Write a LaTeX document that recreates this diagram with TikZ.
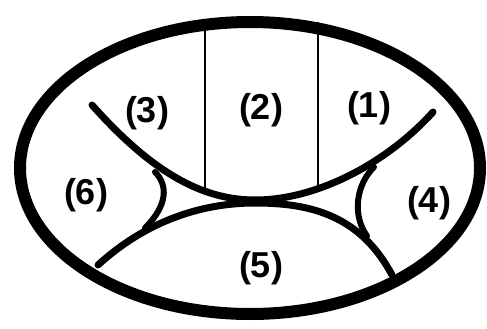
\documentclass[tikz,border=0pt]{standalone}
\usepackage{fontspec}
\setmainfont{Liberation Sans}
\begin{document}
\begin{tikzpicture}[x=1pt,y=-1pt,
  rim/.style={line width=12pt},
  arc/.style={line width=7pt,line cap=round},
  wall/.style={line width=2.8pt},
  lab/.style={font=\fontsize{36}{36}\selectfont\bfseries,inner sep=0pt}]
\useasboundingbox (0,0) rectangle (487,329);
% dividing walls of region (2)
\coordinate (wla) at (205,22);
\coordinate (wlb) at (205,190);
\coordinate (wra) at (318,22);
\coordinate (wrb) at (318,189);
\draw[wall] (wla) -- (wlb);
\draw[wall] (wra) -- (wrb);
% outer rim
\draw[rim] (250,168) ellipse [x radius=230, y radius=146];
% upper curve
\coordinate (ua) at (92,105);
\coordinate (um) at (255,200);
\coordinate (ub) at (433,112);
\draw[arc] (ua) .. controls (150,170) and (200,200) .. (um)
  .. controls (320,200) and (390,160) .. (ub);
% lower curve
\coordinate (la) at (98,265);
\coordinate (lm) at (255,203);
\coordinate (lb) at (392,275);
\draw[arc] (la) .. controls (145,222) and (200,203) .. (lm)
  .. controls (310,203) and (360,215) .. (lb);
% left cusp
\coordinate (lca) at (155,172);
\coordinate (lcb) at (145,228);
\draw[arc,line width=6pt] (lca) .. controls (168,185) and (168,205) .. (lcb);
% right cusp
\coordinate (rca) at (374,167);
\coordinate (rcb) at (367,236);
\draw[arc,line width=6pt] (rca) .. controls (356,185) and (352,215) .. (rcb);
% labels
\node[lab] (n3) at (147,113) {(3)};
\node[lab] (n2) at (261,110) {(2)};
\node[lab] (n1) at (369,108) {(1)};
\node[lab] (n6) at (86,195) {(6)};
\node[lab] (n4) at (429,203) {(4)};
\node[lab] (n5) at (261,268) {(5)};
\end{tikzpicture}
\end{document}
